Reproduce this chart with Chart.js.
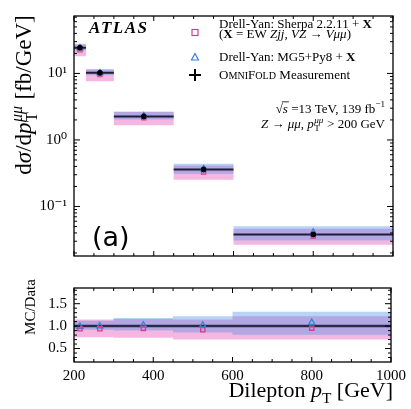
<!DOCTYPE html>
<html>
<head>
<meta charset="utf-8">
<script src="https://cdn.jsdelivr.net/npm/chart.js@4.4.0/dist/chart.umd.min.js"></script>
<style>
  html, body { margin: 0; padding: 0; background: #fff; }
  #wrap { position: relative; width: 411px; height: 409px; }
  #main { position: absolute; left: 0; top: 0; }
  #ratio { position: absolute; left: 0; top: 272px; }
</style>
</head>
<body>
<div id="wrap">
  <canvas id="main" width="411" height="272"></canvas>
  <canvas id="ratio" width="411" height="137"></canvas>
</div>
<script>
//----------------------------------DATA-------------------------------------
const binEdges = [200, 230, 300, 450, 600, 1000];
const binCenters = [215, 265, 375, 525, 800];

// cross sections [fb/GeV]
const dataXsec   = [24.3, 10.2, 2.26, 0.36, 0.038];
const sherpaXsec = [22.6, 9.6, 2.15, 0.33, 0.036];
const mgXsec     = [24.1, 10.2, 2.3, 0.367, 0.041];
const sherpaLo   = [18.2, 7.65, 1.67, 0.252, 0.0266];
const sherpaHi   = [27.9, 11.7, 2.62, 0.414, 0.0464];
const mgLo       = [22.4, 9.38, 2.03, 0.31, 0.0308];
const mgHi       = [27.2, 11.4, 2.67, 0.439, 0.0502];

// MC / Data
const sherpaRatio   = [0.94, 0.94, 0.95, 0.92, 0.955];
const mgRatio       = [0.99, 1.0, 1.02, 1.02, 1.08];
const sherpaRatioLo = [0.75, 0.75, 0.74, 0.70, 0.70];
const sherpaRatioHi = [1.15, 1.15, 1.16, 1.15, 1.22];
const mgRatioLo     = [0.92, 0.92, 0.90, 0.86, 0.81];
const mgRatioHi     = [1.12, 1.12, 1.18, 1.22, 1.32];
const ratioRef = 1.0;

// axes
const xTicks = [200, 400, 600, 800, 1000];
const mainYTicks = [0.1, 1, 10];
const mainYLabels = ['10\u207B\u00B9', '10\u2070', '10\u00B9'];
const ratioYTicks = [0.5, 1.0, 1.5];

//----------------------------------STYLE-------------------------------------
const PINK_BAND = 'rgba(230,67,180,0.38)';
const BLUE_BAND = 'rgba(68,142,230,0.38)';
const PINK = '#d63c8f';
const BLUE = '#3b7fd4';
const DARK = '#1d1d35';
const SERIF = '"Liberation Serif", "DejaVu Serif", serif';

//----------------------------------HELPERS-------------------------------------
function stepPoints(vals) {
    const pts = vals.map((v, i) => ({ x: binEdges[i], y: v }));
    pts.push({ x: binEdges[binEdges.length - 1], y: vals[vals.length - 1] });
    return pts;
}

function binLines(vals) {
    const pts = [];
    vals.forEach((v, i) => {
        pts.push({ x: binEdges[i], y: v }, { x: binEdges[i + 1], y: v }, { x: binEdges[i + 1], y: null });
    });
    return pts;
}

function markers(vals) {
    return vals.map((v, i) => ({ x: binCenters[i], y: v }));
}

function band(lo, hi, color, order) {
    return [
        { data: stepPoints(hi), stepped: true, fill: '+1', backgroundColor: color, borderColor: 'transparent', borderWidth: 0, pointRadius: 0, order: order },
        { data: stepPoints(lo), stepped: true, fill: false, borderColor: 'transparent', borderWidth: 0, pointRadius: 0, order: order }
    ];
}

function fontOf(r, size) {
    return (r.i ? 'italic ' : '') + (r.b ? 'bold ' : '') + size + 'px ' + SERIF;
}

// draws a line of mixed text runs (italic, bold, sub/superscripts)
function drawRich(ctx, runs, x, y, size, align) {
    const widths = runs.map(r => {
        if (r.sub !== undefined) {
            ctx.font = fontOf({}, size * 0.7);
            const a = ctx.measureText(r.sub).width;
            ctx.font = fontOf({ i: true }, size * 0.7);
            const b = ctx.measureText(r.sup).width;
            return Math.max(a, b) + 1;
        }
        ctx.font = fontOf(r, size * (r.s || 1));
        return ctx.measureText(r.t).width;
    });
    const total = widths.reduce((a, b) => a + b, 0);
    let cx = align === 'right' ? x - total : align === 'center' ? x - total / 2 : x;
    ctx.textAlign = 'left';
    ctx.textBaseline = 'alphabetic';
    runs.forEach((r, k) => {
        if (r.sub !== undefined) {
            ctx.font = fontOf({}, size * 0.7);
            ctx.fillText(r.sub, cx + 0.5, y + size * 0.25);
            ctx.font = fontOf({ i: true }, size * 0.7);
            ctx.fillText(r.sup, cx + 0.5, y - size * 0.4);
        } else {
            ctx.font = fontOf(r, size * (r.s || 1));
            ctx.fillText(r.t, cx, y + (r.dy || 0) * size);
            if (r.over) {
                ctx.save();
                ctx.lineWidth = 0.8;
                ctx.beginPath();
                ctx.moveTo(cx - 1, y - size * 0.82);
                ctx.lineTo(cx + widths[k] + 1, y - size * 0.82);
                ctx.stroke();
                ctx.restore();
            }
        }
        cx += widths[k];
    });
}

// frame + inward major/minor ticks on all four sides
function framePlugin(yMajor, yMinor, extra) {
    return {
        id: 'frameTicks',
        afterDraw(chart) {
            const { ctx, chartArea: a, scales } = chart;
            ctx.save();
            ctx.strokeStyle = '#000';
            ctx.lineWidth = 1.3;
            ctx.strokeRect(a.left, a.top, a.right - a.left, a.bottom - a.top);
            ctx.lineWidth = 1;
            ctx.beginPath();
            for (let v = 200; v <= 1000; v += 50) {
                const px = scales.x.getPixelForValue(v);
                const len = v % 200 === 0 ? 5 : 3;
                ctx.moveTo(px, a.bottom); ctx.lineTo(px, a.bottom - len);
                ctx.moveTo(px, a.top); ctx.lineTo(px, a.top + len);
            }
            const yTick = (v, len) => {
                const py = scales.y.getPixelForValue(v);
                ctx.moveTo(a.left, py); ctx.lineTo(a.left + len, py);
                ctx.moveTo(a.right, py); ctx.lineTo(a.right - len, py);
            };
            yMajor.forEach(v => yTick(v, 6));
            yMinor.forEach(v => yTick(v, 3));
            ctx.stroke();
            ctx.fillStyle = '#000';
            if (extra) extra(ctx, a);
            ctx.restore();
        }
    };
}

//----------------------------------MAIN PANEL-------------------------------------
const mainMin = 0.018, mainMax = 73;
const mainMinor = [];
[0.01, 0.1, 1, 10].forEach(d => {
    for (let m = 2; m <= 9; m++) {
        const v = m * d;
        if (v > mainMin && v < mainMax) mainMinor.push(v);
    }
});

function drawMainText(ctx, a) {
    // ATLAS label
    ctx.font = 'italic bold 17px ' + SERIF;
    ctx.letterSpacing = '1.5px';
    ctx.textAlign = 'left';
    ctx.fillText('ATLAS', 89, 33);
    ctx.letterSpacing = '0px';

    // (a)
    ctx.font = '27px "DejaVu Sans"';
    ctx.fillText('(a)', 92, 246);

    // legend
    const fs = 13;
    drawRich(ctx, [{ t: 'Drell-Yan: Sherpa 2.2.11 + ' }, { t: 'X', b: true }], 219, 27.5, fs);
    drawRich(ctx, [{ t: '(' }, { t: 'X', b: true }, { t: ' = EW ' }, { t: 'Zjj', i: true }, { t: ', ' },
        { t: 'VZ', i: true }, { t: ' \u2192 ' }, { t: 'V\u03BC\u03BC', i: true }, { t: ')' }], 219, 38, fs);
    drawRich(ctx, [{ t: 'Drell-Yan: MG5+Py8 + ' }, { t: 'X', b: true }], 219, 61, fs);
    drawRich(ctx, [{ t: 'O' }, { t: 'MNI', s: 0.78 }, { t: 'F' }, { t: 'OLD', s: 0.78 }, { t: ' Measurement' }], 219, 79, fs);
    drawRich(ctx, [{ t: '\u221A' }, { t: 's', i: true, over: true }, { t: ' =13 TeV, 139 fb' }, { t: '\u22121', s: 0.7, dy: -0.4 }], 385, 112.5, fs, 'right');
    drawRich(ctx, [{ t: 'Z', i: true }, { t: ' \u2192 ' }, { t: '\u03BC\u03BC', i: true }, { t: ', ' }, { t: 'p', i: true },
        { sub: 'T', sup: '\u03BC\u03BC' }, { t: ' > 200 GeV' }], 385, 128, fs, 'right');

    // legend glyphs
    ctx.lineWidth = 1.2;
    ctx.strokeStyle = PINK;
    ctx.strokeRect(192, 29.5, 6, 6);
    ctx.strokeStyle = BLUE;
    ctx.beginPath();
    ctx.moveTo(195, 53.5); ctx.lineTo(198.5, 60); ctx.lineTo(191.5, 60); ctx.closePath();
    ctx.stroke();
    ctx.strokeStyle = '#000';
    ctx.lineWidth = 2;
    ctx.beginPath();
    ctx.moveTo(189, 75); ctx.lineTo(201, 75);
    ctx.moveTo(195, 69); ctx.lineTo(195, 81);
    ctx.stroke();

    // y title
    ctx.save();
    ctx.translate(31, 95);
    ctx.rotate(-Math.PI / 2);
    ctx.fillStyle = '#000';
    drawRich(ctx, [{ t: 'd' }, { t: '\u03C3', i: true }, { t: '/d' }, { t: 'p', i: true },
        { sub: 'T', sup: '\u03BC\u03BC' }, { t: ' [fb/GeV]' }], 0, 0, 23, 'center');
    ctx.restore();
}

new Chart(document.getElementById('main'), {
    type: 'line',
    data: {
        datasets: [
            ...band(sherpaLo, sherpaHi, PINK_BAND, 5),
            ...band(mgLo, mgHi, BLUE_BAND, 4),
            { data: binLines(dataXsec), borderColor: DARK, borderWidth: 2, pointRadius: 0, spanGaps: false, order: 3 },
            { data: markers(sherpaXsec), showLine: false, pointStyle: 'rect', pointRadius: 3, borderColor: PINK, backgroundColor: 'transparent', pointBorderWidth: 1.2, order: 2 },
            { data: markers(mgXsec), showLine: false, pointStyle: 'triangle', pointRadius: 3.5, borderColor: BLUE, backgroundColor: 'transparent', pointBorderWidth: 1.2, order: 1 },
            { data: markers(dataXsec), showLine: false, pointStyle: 'circle', pointRadius: 2.5, borderColor: '#000', backgroundColor: '#000', order: 0 }
        ]
    },
    options: {
        responsive: false,
        animation: false,
        layout: { padding: { left: 0, right: 18, top: 9, bottom: 4 } },
        plugins: { legend: { display: false }, tooltip: { enabled: false } },
        scales: {
            x: { type: 'linear', min: 200, max: 1000, display: false },
            y: {
                type: 'logarithmic', min: mainMin, max: mainMax,
                grid: { display: false, drawTicks: false },
                border: { display: false },
                afterFit: s => { s.width = 74; },
                afterBuildTicks: s => { s.ticks = mainYTicks.map(v => ({ value: v })); },
                ticks: {
                    color: '#000', padding: 7,
                    font: { family: SERIF, size: 15 },
                    callback: v => mainYLabels[mainYTicks.indexOf(v)]
                }
            }
        }
    },
    plugins: [framePlugin(mainYTicks, mainMinor, drawMainText)]
});

//----------------------------------RATIO PANEL-------------------------------------
const ratioMinor = [];
for (let k = 3; k <= 18; k++) {
    if (k % 5 !== 0) ratioMinor.push(k / 10);
}

function drawRatioText(ctx, a) {
    ctx.save();
    ctx.translate(35, 35);
    ctx.rotate(-Math.PI / 2);
    drawRich(ctx, [{ t: 'MC/Data' }], 0, 0, 15, 'center');
    ctx.restore();
    drawRich(ctx, [{ t: 'Dilepton ' }, { t: 'p', i: true }, { t: 'T', s: 0.7, dy: 0.25 }, { t: ' [GeV]' }], 393, 125, 22, 'right');
}

new Chart(document.getElementById('ratio'), {
    type: 'line',
    data: {
        datasets: [
            ...band(sherpaRatioLo, sherpaRatioHi, PINK_BAND, 5),
            ...band(mgRatioLo, mgRatioHi, BLUE_BAND, 4),
            { data: [{ x: binEdges[0], y: ratioRef }, { x: binEdges[binEdges.length - 1], y: ratioRef }], borderColor: '#2a2a48', borderWidth: 2.5, pointRadius: 0, order: 3 },
            { data: markers(sherpaRatio), showLine: false, pointStyle: 'rect', pointRadius: 3, borderColor: PINK, backgroundColor: 'transparent', pointBorderWidth: 1.3, order: 1 },
            { data: markers(mgRatio), showLine: false, pointStyle: 'triangle', pointRadius: 3.5, borderColor: BLUE, backgroundColor: 'transparent', pointBorderWidth: 1.3, order: 2 }
        ]
    },
    options: {
        responsive: false,
        animation: false,
        layout: { padding: { left: 0, right: 18, top: 5, bottom: 0 } },
        plugins: { legend: { display: false }, tooltip: { enabled: false } },
        scales: {
            x: {
                type: 'linear', min: 200, max: 1000,
                grid: { display: false, drawTicks: false },
                border: { display: false },
                afterFit: s => { s.height = 47; },
                afterBuildTicks: s => { s.ticks = xTicks.map(v => ({ value: v })); },
                ticks: { color: '#000', padding: 5, maxRotation: 0, font: { family: SERIF, size: 15 }, callback: v => String(v) }
            },
            y: {
                type: 'linear', min: 0.2, max: 1.85,
                grid: { display: false, drawTicks: false },
                border: { display: false },
                afterFit: s => { s.width = 74; },
                afterBuildTicks: s => { s.ticks = ratioYTicks.map(v => ({ value: v })); },
                ticks: {
                    color: '#000', padding: 7,
                    font: { family: SERIF, size: 15 },
                    callback: v => v.toFixed(1)
                }
            }
        }
    },
    plugins: [framePlugin(ratioYTicks, ratioMinor, drawRatioText)]
});
</script>
</body>
</html>
